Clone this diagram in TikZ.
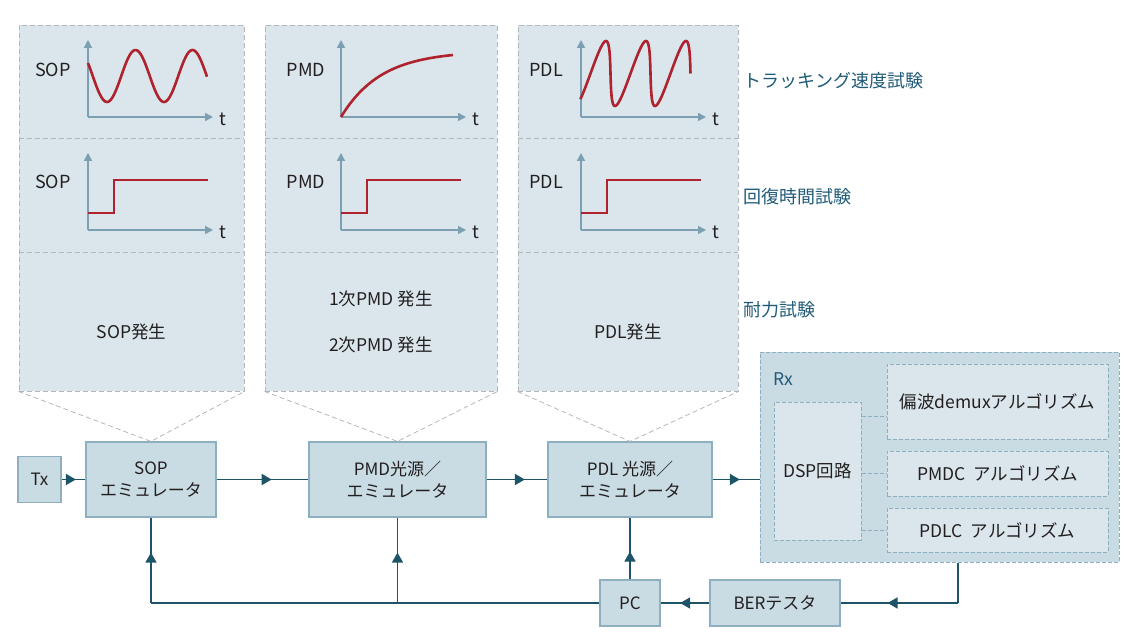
\documentclass[tikz,border=0pt]{standalone}
\usepackage{fontspec}
\setmainfont{Noto Sans CJK JP}
\usetikzlibrary{decorations.markings}
\usetikzlibrary{arrows.meta}
\usetikzlibrary{fit}
\usetikzlibrary{calc}

\definecolor{panelfill}{HTML}{DAE6EC}
\definecolor{panelline}{HTML}{B4B7BA}
\definecolor{boxfill}{HTML}{C9DBE3}
\definecolor{boxline}{HTML}{8DAFC0}
\definecolor{flowline}{HTML}{1E5468}
\definecolor{axisline}{HTML}{7C9FB2}
\definecolor{curvered}{HTML}{B0222D}
\definecolor{testtext}{HTML}{1F5A78}
\definecolor{bodytext}{HTML}{231F20}

\tikzset{
  panel/.style={draw=panelline, fill=panelfill, line width=0.9pt, dash pattern=on 5pt off 3pt, inner sep=0pt},
  divider/.style={draw=panelline, line width=0.9pt, dash pattern=on 5pt off 3pt},
  blockbox/.style={draw=boxline, fill=boxfill, line width=1.2pt, text=bodytext, align=center,
    font=\fontsize{17}{22}\selectfont, inner sep=0pt},
  rxbox/.style={draw=boxline, fill=boxfill, line width=1pt, dash pattern=on 4pt off 2pt, inner sep=0pt},
  algobox/.style={draw=boxline, fill=panelfill, line width=1pt, dash pattern=on 4pt off 2pt,
    text=bodytext, font=\fontsize{17.5}{22}\selectfont, inner sep=0pt},
  algolink/.style={draw=boxline, line width=1pt, dash pattern=on 4pt off 2pt},
  line/.style={draw=flowline, line width=1.7pt},
  flow/.style={line, postaction={decorate}, decoration={markings,
    mark=at position #1 with {\arrow[flowline]{Triangle[length=10pt, width=11pt]}}}},
  flow/.default=0.6,
  axis/.style={draw=axisline, line width=1.6pt, -{Triangle[length=8pt, width=8pt]}},
  signal/.style={draw=curvered, line width=2.6pt},
  plotlabel/.style={text=bodytext, font=\fontsize{18}{22}\selectfont},
  testlabel/.style={text=testtext, anchor=west, font=\fontsize{18}{22}\selectfont},
  gentext/.style={text=bodytext, align=center, font=\fontsize{17.5}{46}\selectfont}
}

\begin{document}
\begin{tikzpicture}[x=1pt, y=-1pt]
  \useasboundingbox (0,0) rectangle (1140,644);

  % Emulator blocks and the transmit line
  \node[blockbox, minimum width=43pt, minimum height=46pt] (tx) at (39.5,479.5) {Tx};
  \node[blockbox, minimum width=130pt, minimum height=75pt] (sop) at (151,479.5) {SOP\\エミュレータ};
  \node[blockbox, minimum width=177pt, minimum height=75pt] (pmd) at (397.5,479.5) {PMD光源／\\エミュレータ};
  \node[blockbox, minimum width=164pt, minimum height=75pt] (pdl) at (630,479.5) {PDL 光源／\\エミュレータ};

  % Test panels above each emulator
  \node[panel, fit={(19,25) (244,391)}] (p1) {};
  \node[panel, fit={(265,25) (497,391)}] (p2) {};
  \node[panel, fit={(518,25) (738,391)}] (p3) {};
  \foreach \p in {p1,p2,p3}{
    \draw[divider] (\p.west |- 0,138) -- (\p.east |- 0,138);
    \draw[divider] (\p.west |- 0,252) -- (\p.east |- 0,252);
  }
  \draw[divider, line width=0.8pt] (p1.south west) -- (sop.north) -- (p1.south east);
  \draw[divider, line width=0.8pt] (p2.south west) -- (pmd.north) -- (p2.south east);
  \draw[divider, line width=0.8pt] (p3.south west) -- (pdl.north) -- (p3.south east);

  % Axes, step responses and labels
  \foreach \ox/\lab in {88/SOP, 341/PMD, 581/PDL}{
    \draw[axis] (\ox,117) -- (\ox,40);
    \draw[axis] (\ox,117) -- (\ox+125,117);
    \node[plotlabel] at (\ox+10+125,119) {t};
    \node[plotlabel] at (\ox-35,70) {\lab};
    \draw[axis] (\ox,230) -- (\ox,153);
    \draw[axis] (\ox,230) -- (\ox+125,230);
    \node[plotlabel] at (\ox+10+125,232) {t};
    \node[plotlabel] at (\ox-35,182) {\lab};
    \draw[signal] (\ox,213) -- (\ox+26,213) -- (\ox+26,180) -- (\ox+120,180);
  }
  \draw[signal] plot[domain=-19:100, samples=90, smooth] (107+\x, {76+26*cos(6.3158*\x)});
  \draw[signal] plot[domain=0:112, samples=60, smooth] (341+\x, {117-66*(1-exp(-\x/40))});
  \draw[signal] plot[domain=-52:900, samples=160, smooth]
    ({590.5+\x/9+5.5*sin(\x)}, {73.5-32.5*sin(\x)});

  % Generator texts
  \node[gentext] (g1) at (131.5,332) {SOP発生};
  \node[gentext] (g2) at (381,322) {1次PMD 発生\\2次PMD 発生};
  \node[gentext] (g3) at (628,332) {PDL発生};

  % Test names
  \node[testlabel] (t1) at (740,81) {トラッキング速度試験};
  \node[testlabel] (t2) at (740,197) {回復時間試験};
  \node[testlabel] (t3) at (740,310) {耐力試験};

  % Receiver
  \node[rxbox, fit={(760,352) (1119,562)}] (rx) {};
  \node[anchor=west, text=testtext, font=\fontsize{17.5}{22}\selectfont] (rxlab) at (770,379) {Rx};
  \node[algobox, minimum width=87pt, minimum height=138pt] (dsp) at (817.5,471) {DSP回路};
  \node[algobox, minimum width=221pt, minimum height=75pt] (alg1) at (997.5,401.5) {偏波demuxアルゴリズム};
  \node[algobox, minimum width=221pt, minimum height=45pt] (alg2) at (997.5,473.5) {PMDC\hspace{8pt}アルゴリズム};
  \node[algobox, minimum width=221pt, minimum height=44pt] (alg3) at (997.5,530) {PDLC\hspace{8pt}アルゴリズム};
  \coordinate (a1) at ($(alg1.west)+(0,14.5)$);
  \draw[algolink] (dsp.east |- a1) -- (a1);
  \draw[algolink] (dsp.east |- alg2.west) -- (alg2.west);
  \draw[algolink] (dsp.east |- alg3.west) -- (alg3.west);

  % Measurement blocks
  \node[blockbox, minimum width=60pt, minimum height=46pt] (pc) at (630,603) {PC};
  \node[blockbox, minimum width=130pt, minimum height=46pt] (ber) at (775,603) {BERテスタ};

  % Signal path
  \draw[flow] (tx.east) -- (sop.west);
  \draw[flow] (sop.east) -- (pmd.west);
  \draw[flow=0.63] (pmd.east) -- (pdl.west);
  \draw[flow=0.58] (pdl.east) -- (rx.west |- pdl.east);

  % Feedback path
  \coordinate (rxout) at ($(rx.south)+(18.5,0)$);
  \coordinate (rxturn) at (rxout |- ber.east);
  \coordinate (sopturn) at (sop.south |- pc.west);
  \coordinate (pmdturn) at (pmd.south |- pc.west);
  \draw[line] (rxout) -- (rxturn);
  \draw[flow] (rxturn) -- (ber.east);
  \draw[flow] (ber.west) -- (pc.east);
  \draw[line] (pc.west) -- (sopturn);
  \draw[flow=0.59] (sopturn) -- (sop.south);
  \draw[flow=0.59] (pmdturn) -- (pmd.south);
  \draw[flow=0.45] (pc.north) -- (pdl.south);
\end{tikzpicture}
\end{document}
